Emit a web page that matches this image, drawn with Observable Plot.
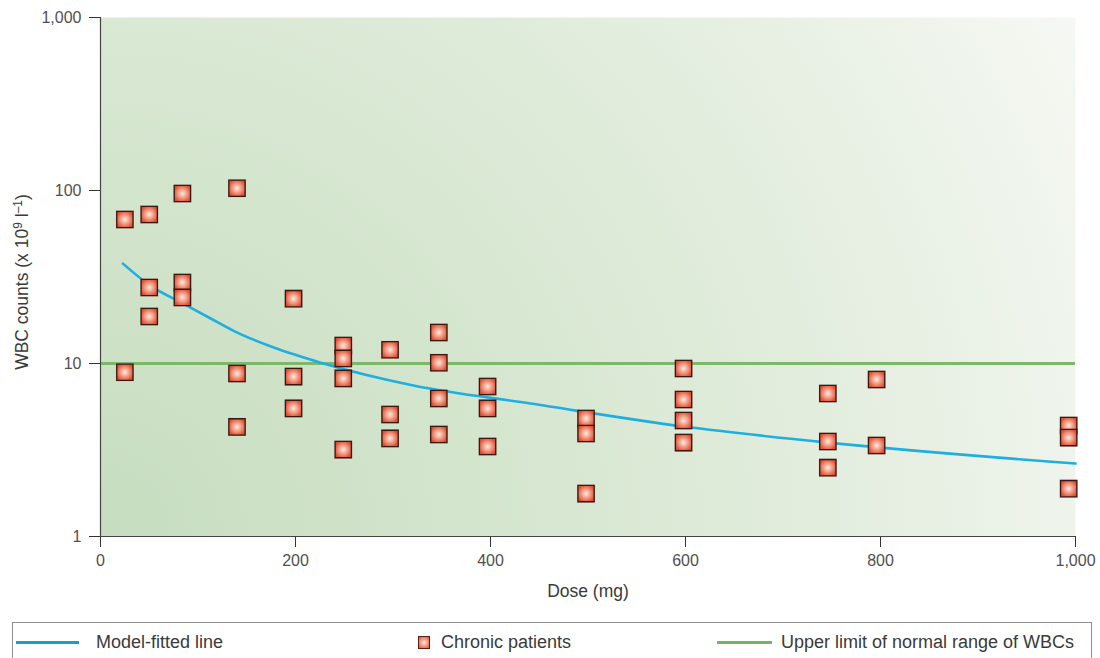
<!DOCTYPE html>
<html><head><meta charset="utf-8">
<script src="https://cdn.jsdelivr.net/npm/d3@7"></script>
<script src="https://cdn.jsdelivr.net/npm/@observablehq/plot@0.6"></script>
<style>
body{margin:0;background:#fff;font-family:"Liberation Sans",Arial,sans-serif;}
#chart{height:622px;}
#legend{position:relative;margin-left:12px;width:1080px;height:36px;border:1px solid #8f8f8f;border-bottom:none;box-sizing:border-box;color:#3a3a3a;font-size:18px;}
#legend .ln{position:absolute;top:18px;height:3px;}
#legend .tx{position:absolute;top:9px;}
#legend .mk{position:absolute;top:13px;width:10px;height:11px;border:1px solid #5a1f14;background:radial-gradient(circle,#fde9e1 0%,#f29a80 50%,#df4f35 100%);}
</style></head><body>
<div id="chart"></div>
<div id="legend">
  <div class="ln" style="left:3px;width:63px;background:#1e9cc6"></div>
  <div class="tx" style="left:83px">Model-fitted line</div>
  <div class="mk" style="left:405px"></div>
  <div class="tx" style="left:428px">Chronic patients</div>
  <div class="ln" style="left:704px;width:55px;background:#76b465"></div>
  <div class="tx" style="left:768px">Upper limit of normal range of WBCs</div>
</div>
<script>
// Chronic patients: dose (mg) and WBC counts (x10^9 /l)
const patientDose = [25,25, 50,50,50, 84,84,84, 140,140,140, 198,198,198, 249,249,249,249, 297,297,297, 347,347,347,347, 397,397,397, 498,498,498, 598,598,598,598, 746,746,746, 796,796, 993,993,993];
const patientWbc  = [68,8.9, 72.7,27.5,18.7, 96,29.4,24.1, 103,8.75,4.3, 23.7,8.4,5.5, 12.7,10.7,8.2,3.18, 12.0,5.07,3.69, 15.1,10.1,6.28,3.89, 7.36,5.5,3.31, 4.81,3.94,1.77, 9.36,6.19,4.68,3.49, 6.71,3.54,2.50, 8.08,3.36, 4.38,3.73,1.89];
// Model-fitted line
const fitDose = [23, 51, 85, 113, 136, 177, 226, 321, 441, 598, 746, 1000];
const fitWbc  = [37.8, 28.2, 22.2, 18.2, 15.5, 12.4, 10.1, 7.46, 5.87, 4.32, 3.49, 2.64];
// Upper limit of normal range
const normalLimit = 10;
const xTicks = [0, 200, 400, 600, 800, 1000];
const yTicks = [1, 10, 100, 1000];
const xLabel = "Dose (mg)";
const yLabel = "WBC counts (x 10⁹ l⁻¹)";

const patients = patientDose.map((d, i) => ({dose: d, wbc: patientWbc[i]}));
const fit = fitDose.map((d, i) => ({dose: d, wbc: fitWbc[i]}));
const fmt = d3.format(",");

const chart = Plot.plot({
  width: 1100,
  height: 622,
  marginLeft: 100,
  marginRight: 25,
  marginTop: 17,
  marginBottom: 86,
  style: {fontFamily: "Liberation Sans, Arial, sans-serif", fontSize: "16px", color: "#505050", background: "transparent", overflow: "visible"},
  x: {domain: [0, 1000]},
  y: {type: "log", domain: [1, 1000]},
  marks: [
    Plot.frame({fill: "url(#bgGrad)", stroke: null}),
    Plot.ruleY([normalLimit], {stroke: "#7db86a", strokeWidth: 3}),
    Plot.line(fit, {x: "dose", y: "wbc", stroke: "#1faee0", strokeWidth: 2.6, curve: "monotone-x"}),
    Plot.dot(patients, {x: "dose", y: "wbc", symbol: "square", r: 10.2, fill: "#7a7a7a", fillOpacity: 0.35, stroke: "none"}),
    Plot.dot(patients, {x: "dose", y: "wbc", symbol: "square", r: 9.2, fill: "url(#mkGrad)", stroke: "#3a1810", strokeWidth: 1.3}),
    Plot.axisX({ticks: xTicks, tickFormat: fmt, tickSize: 11, tickPadding: 7, stroke: "#333", label: null}),
    Plot.axisY({ticks: yTicks, tickFormat: fmt, tickSize: 11, tickPadding: 8, stroke: "#333", label: null}),
    Plot.ruleX([0], {stroke: "#444", strokeWidth: 1.2}),
    Plot.ruleY([1], {stroke: "#444", strokeWidth: 1.2}),
    Plot.text([xLabel], {frameAnchor: "bottom", dy: 60, fontSize: 17.5, fill: "#3a3a3a"}),
    Plot.text([yLabel], {frameAnchor: "left", textAnchor: "middle", dx: -78, dy: 5, rotate: -90, fontSize: 17.5, fill: "#3a3a3a"})
  ]
});

// axis tick labels size
chart.querySelectorAll("g[aria-label*='tick label']").forEach(g => {
  g.style.fontSize = "16px";
});
// real superscripts in the y label
chart.querySelectorAll("text").forEach(t => {
  if (t.textContent === yLabel) {
    t.innerHTML = 'WBC counts (x 10<tspan dy="-6" font-size="12">9</tspan><tspan dy="6"> l</tspan><tspan dy="-6" font-size="12">–1</tspan><tspan dy="6">)</tspan>';
  }
});

chart.insertAdjacentHTML("afterbegin", `<defs>
  <radialGradient id="bgGrad" gradientUnits="userSpaceOnUse" cx="100" cy="536" r="1120">
    <stop offset="0" stop-color="#c6ddbf"/>
    <stop offset="0.45" stop-color="#d9e8d3"/>
    <stop offset="0.75" stop-color="#e8f0e4"/>
    <stop offset="1" stop-color="#f6f9f4"/>
  </radialGradient>
  <radialGradient id="mkGrad" cx="0.5" cy="0.5" r="0.55">
    <stop offset="0" stop-color="#fdebe3"/>
    <stop offset="0.5" stop-color="#f29b82"/>
    <stop offset="1" stop-color="#de4d33"/>
  </radialGradient>
</defs>`);
document.getElementById("chart").appendChild(chart);
</script>
</body></html>
